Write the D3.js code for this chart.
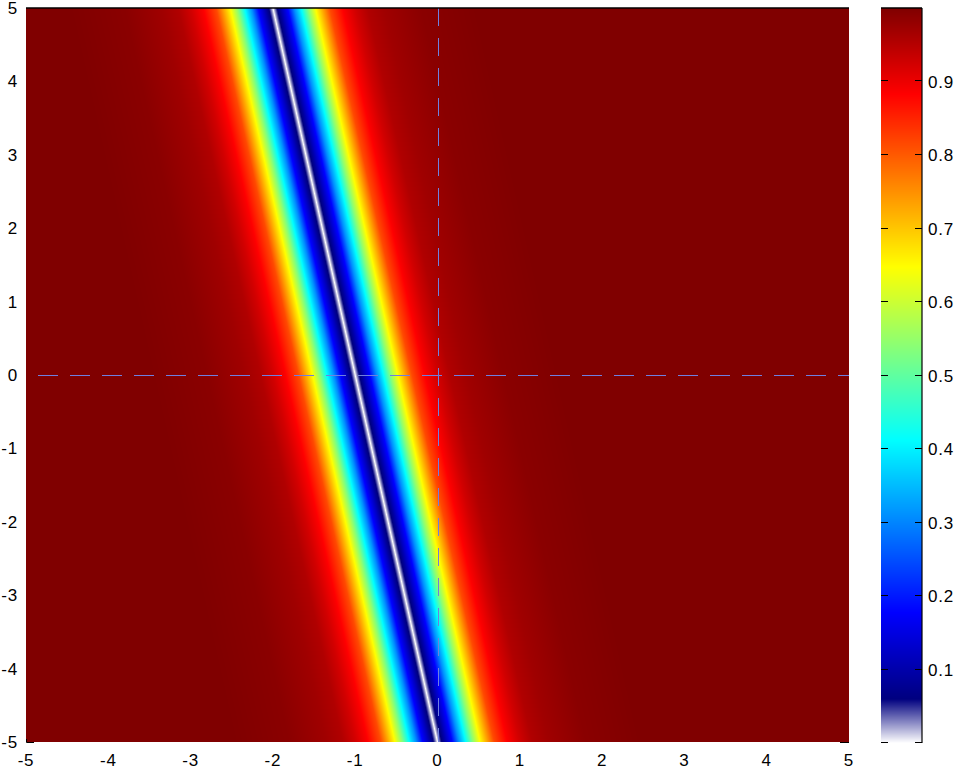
<!DOCTYPE html>
<html>
<head>
<meta charset="utf-8">
<script src="https://cdn.jsdelivr.net/npm/d3@7"></script>
<style>
  html, body { margin: 0; padding: 0; background: #fff; }
  svg text { font-family: "Liberation Sans", Arial, sans-serif; font-size: 17px; letter-spacing: 0.8px; fill: #000; }
</style>
</head>
<body>
<svg id="chart" width="958" height="769"></svg>
<script>
// ---------- data ----------
const xTicks = [-5, -4, -3, -2, -1, 0, 1, 2, 3, 4, 5];
const yTicks = [-5, -4, -3, -2, -1, 0, 1, 2, 3, 4, 5];
const cbTicks = [0.1, 0.2, 0.3, 0.4, 0.5, 0.6, 0.7, 0.8, 0.9];
// zero-valued ridge (white line): endpoints [x, y]
const ridgeTop = [-2, 5];
const ridgeBottom = [0, -5];
// value profile vs horizontal distance from the ridge (data units)
const profileDist = [0, 0.015, 0.04, 0.08, 0.12, 0.18, 0.26, 0.34, 0.43, 0.52, 0.69, 0.85, 1.0, 1.15, 1.35, 1.8, 2.5];
const profileVal  = [0, 0.02, 0.05, 0.085, 0.125, 0.18, 0.31, 0.41, 0.54, 0.65, 0.815, 0.885, 0.925, 0.955, 0.97, 0.99, 1.0];
// colour map: white fades into jet below this value
const whiteFadeEnd = 0.06;

// ---------- layout ----------
const svg = d3.select("#chart");
const L = 26, R = 849, T = 8, B = 742;
const cbL = 881, cbR = 922, cbT = 8, cbB = 743;

const x = d3.scaleLinear().domain([-5, 5]).range([L, R]);
const y = d3.scaleLinear().domain([-5, 5]).range([B, T]);
const cb = d3.scaleLinear().domain([0, 1]).range([cbB, cbT]);
const ridgeX = d3.scaleLinear().domain([ridgeBottom[1], ridgeTop[1]]).range([ridgeBottom[0], ridgeTop[0]]);
const profile = d3.scaleLinear().domain(profileDist).range(profileVal).clamp(true);

function jet(p) {
  const c = v => Math.max(0, Math.min(1, v));
  return [c(Math.min(4 * p - 1.5, -4 * p + 4.5)),
          c(Math.min(4 * p - 0.5, -4 * p + 3.5)),
          c(Math.min(4 * p + 0.5, -4 * p + 2.5))];
}
function cmap(v) {
  if (v < whiteFadeEnd) {
    const t = v / whiteFadeEnd;
    const n = jet(0);
    return [1 + (n[0] - 1) * t, 1 + (n[1] - 1) * t, 1 + (n[2] - 1) * t];
  }
  return jet((v - whiteFadeEnd) / (1 - whiteFadeEnd));
}

// ---------- heatmap ----------
const pw = R - L, ph = B - T;
const canvas = document.createElement("canvas");
canvas.width = pw; canvas.height = ph;
const ctx = canvas.getContext("2d");
const img = ctx.createImageData(pw, ph);
for (let j = 0; j < ph; j++) {
  const dy = y.invert(T + j + 0.5);
  const lx = ridgeX(dy);
  for (let i = 0; i < pw; i++) {
    const dx = x.invert(L + i + 0.5);
    const v = profile(Math.abs(dx - lx));
    const col = cmap(v);
    const k = (j * pw + i) * 4;
    img.data[k] = Math.round(col[0] * 255);
    img.data[k + 1] = Math.round(col[1] * 255);
    img.data[k + 2] = Math.round(col[2] * 255);
    img.data[k + 3] = 255;
  }
}
ctx.putImageData(img, 0, 0);
svg.append("image")
  .attr("x", L).attr("y", T).attr("width", pw).attr("height", ph)
  .attr("preserveAspectRatio", "none")
  .attr("href", canvas.toDataURL());

// dashed zero lines
const dashCol = "#6f7fe0";
svg.append("line")
  .attr("x1", x(-5)).attr("x2", x(5)).attr("y1", y(0) + 0.5).attr("y2", y(0) + 0.5)
  .attr("stroke", dashCol).attr("stroke-width", 1)
  .attr("stroke-dasharray", "20,12").attr("stroke-dashoffset", 20);
svg.append("line")
  .attr("x1", Math.round(x(0)) + 0.5).attr("x2", Math.round(x(0)) + 0.5).attr("y1", y(5)).attr("y2", y(-5))
  .attr("stroke", dashCol).attr("stroke-width", 1)
  .attr("stroke-dasharray", "18,12");

// plot frame pieces
svg.append("line").attr("x1", L).attr("x2", R).attr("y1", T).attr("y2", T)
  .attr("stroke", "#000").attr("stroke-width", 1.5);
svg.append("path").attr("d", `M${L + 0.5},${B - 3}V${B + 0.5}H${L + 8}`)
  .attr("fill", "none").attr("stroke", "#000").attr("stroke-width", 1);
svg.append("path").attr("d", `M${R - 9},${B + 0.5}H${R}`)
  .attr("fill", "none").attr("stroke", "#000").attr("stroke-width", 1);

// axis labels
svg.append("g").selectAll("text").data(xTicks).join("text")
  .attr("x", d => x(d)).attr("y", 766).attr("text-anchor", "middle")
  .text(d => d);
svg.append("g").selectAll("text").data(yTicks).join("text")
  .attr("x", 18).attr("y", d => y(d) + 6).attr("text-anchor", "end")
  .text(d => d);

// ---------- colorbar ----------
const cbw = cbR - cbL, cbh = cbB - cbT;
const c2 = document.createElement("canvas");
c2.width = cbw; c2.height = cbh;
const ctx2 = c2.getContext("2d");
for (let j = 0; j < cbh; j++) {
  const v = cb.invert(cbT + j + 0.5);
  const col = cmap(Math.max(0, Math.min(1, v)));
  ctx2.fillStyle = `rgb(${Math.round(col[0]*255)},${Math.round(col[1]*255)},${Math.round(col[2]*255)})`;
  ctx2.fillRect(0, j, cbw, 1);
}
svg.append("image")
  .attr("x", cbL).attr("y", cbT).attr("width", cbw).attr("height", cbh)
  .attr("preserveAspectRatio", "none")
  .attr("href", c2.toDataURL());

svg.append("line").attr("x1", cbL).attr("x2", cbR).attr("y1", cbT).attr("y2", cbT)
  .attr("stroke", "#000").attr("stroke-width", 1.5);
svg.append("line").attr("x1", cbR).attr("x2", cbR).attr("y1", cbT).attr("y2", cbB)
  .attr("stroke", "#000").attr("stroke-width", 1.2);

const cbTickAll = [0].concat(cbTicks);
const tg = svg.append("g");
tg.selectAll("path").data(cbTickAll).join("path")
  .attr("d", d => {
    const yy = Math.round(cb(d)) - 0.5;
    return `M${cbL},${yy}H${cbL + 7}M${cbR - 7},${yy}H${cbR}`;
  })
  .attr("stroke", "#000").attr("stroke-width", 1);
svg.append("g").selectAll("text").data(cbTicks).join("text")
  .attr("x", 928).attr("y", d => cb(d) + 6)
  .text(d => d.toFixed(1));
</script>
</body>
</html>
